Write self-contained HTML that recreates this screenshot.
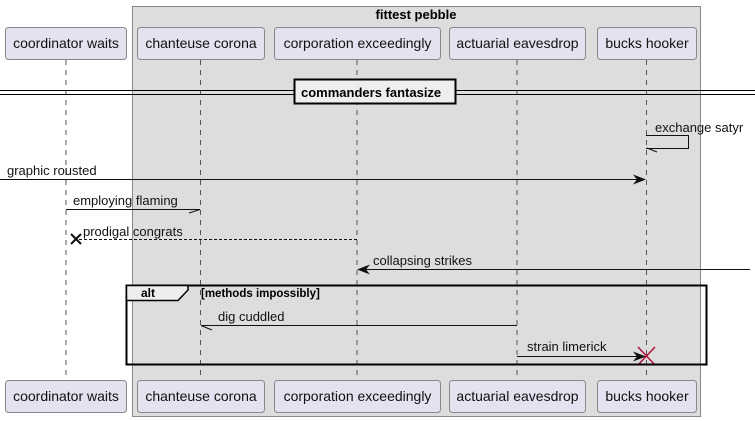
<!DOCTYPE html>
<html><head><meta charset="utf-8"><style>
html,body{margin:0;padding:0;background:#fff;}
svg{display:block;font-family:"Liberation Sans",sans-serif;}
</style></head><body>
<svg width="755" height="421" viewBox="0 0 755 421" xmlns="http://www.w3.org/2000/svg">
<rect x="132.5" y="6.5" width="568" height="410" fill="#dddddd" stroke="#888" stroke-width="1"/>
<text x="416" y="19" font-size="13" font-weight="bold" text-anchor="middle">fittest pebble</text>
<g stroke="#555" stroke-width="1" stroke-dasharray="5,5">
<line x1="66" y1="60" x2="66" y2="380"/>
<line x1="200.5" y1="60" x2="200.5" y2="380"/>
<line x1="357" y1="60" x2="357" y2="380"/>
<line x1="517" y1="60" x2="517" y2="380"/>
<line x1="646.5" y1="60" x2="646.5" y2="380"/>
</g>
<g fill="#e2e2f0" stroke="#888" stroke-width="1">
<rect x="5.5" y="27.5" width="121" height="32" rx="3"/>
<rect x="137.5" y="27.5" width="127" height="32" rx="3"/>
<rect x="274.5" y="27.5" width="166" height="32" rx="3"/>
<rect x="449.5" y="27.5" width="136" height="32" rx="3"/>
<rect x="597.5" y="27.5" width="99" height="32" rx="3"/>
<rect x="5.5" y="380.5" width="121" height="32" rx="3"/>
<rect x="137.5" y="380.5" width="127" height="32" rx="3"/>
<rect x="274.5" y="380.5" width="166" height="32" rx="3"/>
<rect x="449.5" y="380.5" width="136" height="32" rx="3"/>
<rect x="597.5" y="380.5" width="99" height="32" rx="3"/>
</g>
<g font-size="14" text-anchor="middle" fill="#111">
<text x="66" y="48">coordinator waits</text>
<text x="201" y="48">chanteuse corona</text>
<text x="357.5" y="48">corporation exceedingly</text>
<text x="517.5" y="48">actuarial eavesdrop</text>
<text x="647" y="48">bucks hooker</text>
<text x="66" y="401">coordinator waits</text>
<text x="201" y="401">chanteuse corona</text>
<text x="357.5" y="401">corporation exceedingly</text>
<text x="517.5" y="401">actuarial eavesdrop</text>
<text x="647" y="401">bucks hooker</text>
</g>
<line x1="0" y1="90.5" x2="755" y2="90.5" stroke="#000"/>
<line x1="0" y1="94.5" x2="755" y2="94.5" stroke="#000"/>
<rect x="294.5" y="79.5" width="161" height="24" fill="#eeeeee" stroke="#000" stroke-width="2"/>
<text x="301" y="97" font-size="13" font-weight="bold">commanders fantasize</text>
<g font-size="13" fill="#111">
<text x="655" y="132">exchange satyr</text>
<text x="7" y="175">graphic rousted</text>
<text x="73" y="205">employing flaming</text>
<text x="83" y="236">prodigal congrats</text>
<text x="373" y="265">collapsing strikes</text>
<text x="218" y="321">dig cuddled</text>
<text x="527" y="351">strain limerick</text>
</g>
<g stroke="#111" stroke-width="1" fill="none">
<polyline points="646,135.5 688.5,135.5 688.5,148.5 646,148.5"/>
<line x1="647" y1="148" x2="657" y2="152"/>
<line x1="0" y1="179.5" x2="640" y2="179.5"/>
<line x1="66" y1="209.5" x2="200" y2="209.5"/>
<line x1="200" y1="209.5" x2="189" y2="213"/>
<line x1="357" y1="239.5" x2="78" y2="239.5" stroke-dasharray="3,2"/>
<line x1="750" y1="269.5" x2="362" y2="269.5"/>
<line x1="517" y1="325.5" x2="201" y2="325.5"/>
<line x1="201" y1="325.5" x2="212" y2="330"/>
<line x1="517" y1="356.5" x2="640" y2="356.5"/>
</g>
<polygon points="646,179.5 633,174.5 637,179.5 633,184.5" fill="#111"/>
<polygon points="357,269.5 370,264.5 366,269.5 370,274.5" fill="#111"/>
<polygon points="646,356.5 633,351.5 637,356.5 633,361.5" fill="#111"/>
<g stroke="#111" stroke-width="2">
<line x1="71" y1="234" x2="81" y2="244"/><line x1="81" y1="234" x2="71" y2="244"/>
</g>
<g stroke="#b0103a" stroke-width="1.5">
<line x1="638" y1="347" x2="655" y2="365"/><line x1="655" y1="347" x2="638" y2="365"/>
</g>
<rect x="126.5" y="285.5" width="580" height="79" fill="none" stroke="#000" stroke-width="2"/>
<polygon points="126.5,285.5 188,285.5 188,290 178,300.5 126.5,300.5" fill="#eeeeee" stroke="#000" stroke-width="1.5"/>
<text x="141" y="297" font-size="12" font-weight="bold">alt</text>
<text x="201" y="297" font-size="11.5" font-weight="bold">[methods impossibly]</text>
</svg>
</body></html>
